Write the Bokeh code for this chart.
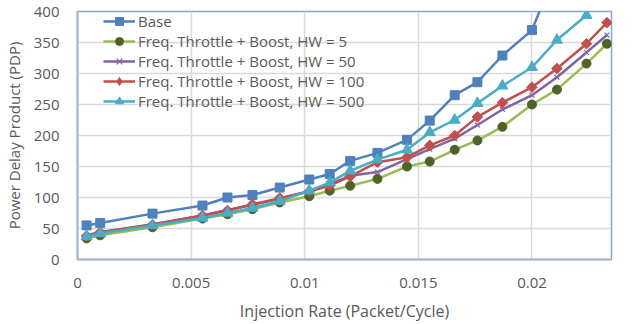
import math
from bokeh.plotting import figure
from bokeh.models import Range1d, FixedTicker, NumeralTickFormatter, Legend, LegendItem
from bokeh.embed import file_html
from bokeh.resources import INLINE

# ---- data ----
x_rate = [0.0004, 0.0010, 0.0033, 0.0055, 0.0066, 0.0077, 0.0089, 0.0102, 0.0111, 0.0120,
          0.0132, 0.0145, 0.0155, 0.0166, 0.0176, 0.0187, 0.0200, 0.0211, 0.0224, 0.0233]

base = [55, 59, 74, 87, 100, 104, 116, 129, 138, 159, 172, 193, 224, 265, 286, 329, 370, 470]
hw5 = [34, 39, 52, 66, 73, 81, 92, 102, 111, 119, 130, 150, 158, 177, 192, 214, 250, 274, 316, 348]
hw50 = [39, 44, 57, 71, 80, 88, 98, 110, 121, 135, 141, 162, 178, 195, 217, 242, 265, 294, 334, 362]
hw100 = [38, 44, 56, 71, 79, 89, 99, 110, 119, 134, 157, 165, 184, 200, 230, 253, 278, 308, 348, 382]
hw500 = [37, 42, 55, 67, 75, 83, 94, 111, 124, 143, 161, 177, 205, 225, 252, 280, 310, 354, 394]

series_names = ["Base",
                "Freq. Throttle + Boost, HW = 5",
                "Freq. Throttle + Boost, HW = 50",
                "Freq. Throttle + Boost, HW = 100",
                "Freq. Throttle + Boost, HW = 500"]

x_ticks = [0, 0.005, 0.01, 0.015, 0.02]
y_ticks = [0, 50, 100, 150, 200, 250, 300, 350, 400]

FONT = "Open Sans"
TXT = "#595959"

p = figure(frame_width=534, frame_height=248,
           min_border_left=77, min_border_right=25, min_border_top=11, min_border_bottom=60,
           x_range=Range1d(0, 0.0235), y_range=Range1d(0, 400),
           output_backend="svg", toolbar_location=None,
           styles={"position": "absolute", "left": "0px", "top": "0px"})

p.background_fill_color = "white"
p.border_fill_color = "white"
p.outline_line_color = "#86A6D6"
p.outline_line_width = 1.5

for ax in (p.xaxis[0], p.yaxis[0]):
    ax.axis_line_color = "#A8B6C8"
    ax.axis_line_width = 2
    ax.major_tick_line_color = None
    ax.minor_tick_line_color = None
    ax.major_label_text_font = FONT
    ax.major_label_text_font_size = "15px"
    ax.major_label_text_color = TXT
    ax.axis_label_text_font = FONT
    ax.axis_label_text_font_style = "normal"
    ax.axis_label_text_color = TXT

p.xaxis.axis_label_text_font_size = "16px"
p.yaxis.axis_label_text_font_size = "15px"
p.xaxis.ticker = FixedTicker(ticks=x_ticks)
p.xaxis.formatter = NumeralTickFormatter(format="0.[000]")
p.yaxis.ticker = FixedTicker(ticks=y_ticks)
p.xaxis.major_label_standoff = 12
p.yaxis.major_label_standoff = 12
p.xaxis.axis_label = "Injection Rate (Packet/Cycle)"
p.yaxis.axis_label = "Power Delay Product (PDP)"
p.xaxis.axis_label_standoff = 9
p.yaxis.axis_label_standoff = 7

p.xgrid.ticker = FixedTicker(ticks=x_ticks)
p.ygrid.ticker = FixedTicker(ticks=y_ticks)
for g in (p.xgrid[0], p.ygrid[0]):
    g.grid_line_color = "#D9D9D9"
    g.grid_line_width = 1.5

LW = 2.5
items = []
# Base
l0 = p.line(x_rate[:len(base)], base, line_color="#4F81BD", line_width=LW)
m0 = p.scatter(x_rate[:len(base)], base, marker="square", size=9, fill_color="#4F81BD",
               line_color="#4F81BD")
items.append(LegendItem(label=series_names[0], renderers=[l0, m0]))
# HW = 5
l1 = p.line(x_rate[:len(hw5)], hw5, line_color="#9BBB59", line_width=LW)
m1 = p.scatter(x_rate[:len(hw5)], hw5, marker="circle", size=9, fill_color="#4F6228",
               line_color="#4F6228")
items.append(LegendItem(label=series_names[1], renderers=[l1, m1]))
# HW = 50
l2 = p.line(x_rate[:len(hw50)], hw50, line_color="#8064A2", line_width=LW)
m2 = p.scatter(x_rate[:len(hw50)], hw50, marker="x", size=7, line_color="#8064A2", line_width=1.2)
items.append(LegendItem(label=series_names[2], renderers=[l2, m2]))
# HW = 100
l3 = p.line(x_rate[:len(hw100)], hw100, line_color="#C0504D", line_width=LW)
m3 = p.scatter(x_rate[:len(hw100)], hw100, marker="square", size=7.5, angle=math.pi / 4,
               fill_color="#C0504D", line_color="#C0504D")
# legend-only swatch (diamond), no data points drawn
k3 = p.scatter([float("nan")], [float("nan")], marker="diamond", size=12,
               fill_color="#C0504D", line_color="#C0504D")
items.append(LegendItem(label=series_names[3], renderers=[l3, k3]))
# HW = 500
l4 = p.line(x_rate[:len(hw500)], hw500, line_color="#4BACC6", line_width=LW)
m4 = p.scatter(x_rate[:len(hw500)], hw500, marker="triangle", size=11, fill_color="#4BACC6",
               line_color="#4BACC6")
items.append(LegendItem(label=series_names[4], renderers=[l4, m4]))

legend = Legend(items=items, location=(26, 148), padding=0, margin=0, spacing=0,
                label_height=20, glyph_height=20, glyph_width=32, label_standoff=3,
                label_text_font=FONT, label_text_font_size="15px", label_text_color=TXT,
                background_fill_alpha=0, border_line_color=None)
p.add_layout(legend, "center")

open("out.html", "w").write(file_html(p, INLINE))
